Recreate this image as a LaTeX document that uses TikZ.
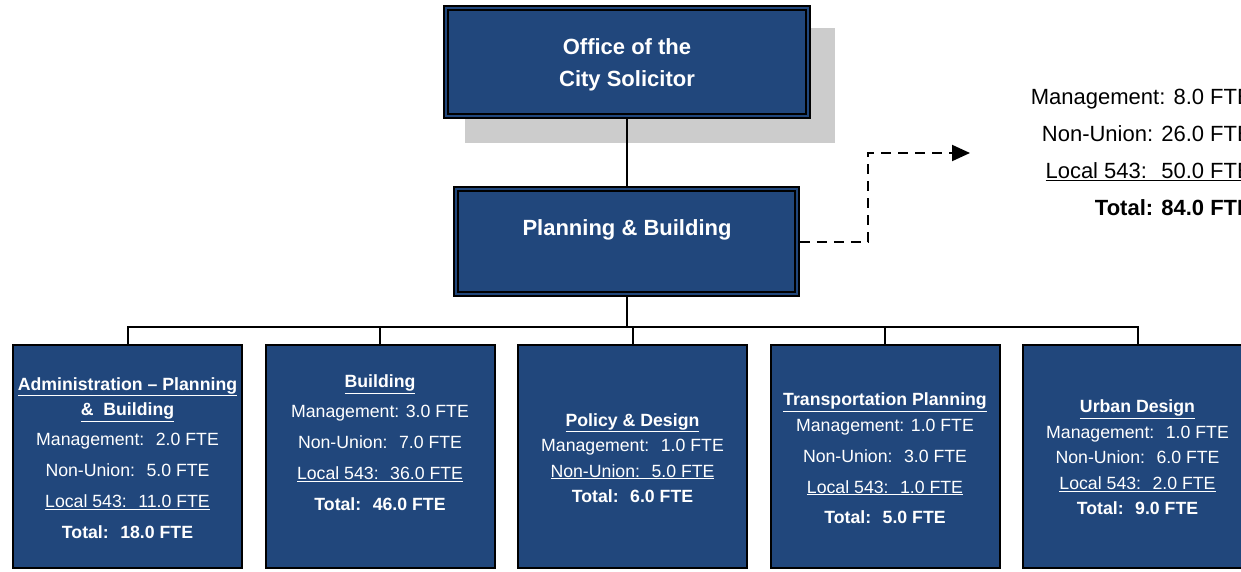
\documentclass[tikz,border=0pt]{standalone}
\usepackage{fontspec}
\setmainfont{Liberation Sans}
\usetikzlibrary{arrows.meta}
\definecolor{boxblue}{RGB}{33,71,124}
\definecolor{shadowgray}{RGB}{204,204,204}

\begin{document}
\begin{tikzpicture}[x=1pt,y=-1pt,
  headbox/.style={draw=black, line width=1.7pt, double=boxblue, double distance=2.7pt,
    fill=boxblue, inner sep=0pt, outer sep=3pt},
  headtext/.style={text=white, align=center, inner sep=0pt,
    font=\bfseries\fontsize{22}{32}\selectfont},
  unitbox/.style={draw=black, line width=2pt, fill=boxblue, inner sep=0pt,
    minimum width=229pt, minimum height=223pt},
  unittext/.style={text=white, align=center, inner sep=0pt,
    font=\fontsize{17.7}{25.5}\selectfont},
  totaltext/.style={text=black, align=right, inner sep=0pt,
    font=\fontsize{22}{37}\selectfont},
  link/.style={draw=black, line width=2pt},
  dotlink/.style={link, dash pattern=on 10pt off 7pt},
]
\useasboundingbox (0,0) rectangle (1241,571);

% drop shadow behind the office box
\node[fill=shadowgray, inner sep=0pt, minimum width=370pt, minimum height=115pt]
  (shadow) at (650,85.5) {};

% head boxes
\node[headbox, minimum width=361.9pt, minimum height=107.9pt] (office) at (627,62) {};
\node[headtext] (officetext) at (627,64.5) {Office of the\\City Solicitor};

\node[headbox, minimum width=340.9pt, minimum height=104.9pt] (pb) at (626.5,241.5) {};
\node[headtext] (pbtext) at (627,230) {Planning \& Building};

% staff totals
\node[totaltext, anchor=east] (totals) at (1252,152.5)
  {Management: 8.0 FTE\\Non-Union: 26.0 FTE\\\underline{Local 543:~ 50.0 FTE}\\\textbf{Total: 84.0 FTE}};
\coordinate (totalsin) at (970,153);

% unit boxes
\node[unitbox] (u1) at (127.5,456.5) {};
\node[unitbox] (u2) at (380,456.5) {};
\node[unitbox] (u3) at (632.5,456.5) {};
\node[unitbox] (u4) at (885,456.5) {};
\node[unitbox] (u5) at (1137.5,456.5) {};

\node[unittext] (t1) at (127.5,458)
  {\textbf{\underline{Administration – Planning}}\\
   \textbf{\underline{\&~ Building}}\\[4.5pt]
   Management:~ 2.0 FTE\\[5.5pt]
   Non-Union:~ 5.0 FTE\\[5.5pt]
   \underline{Local 543:~ 11.0 FTE}\\[5.5pt]
   \textbf{Total:~ 18.0 FTE}};
\node[unittext] (t2) at (380,443)
  {\textbf{\underline{Building}}\\[4.5pt]
   Management: 3.0 FTE\\[5.5pt]
   Non-Union:~ 7.0 FTE\\[5.5pt]
   \underline{Local 543:~ 36.0 FTE}\\[5.5pt]
   \textbf{Total:~ 46.0 FTE}};
\node[unittext] (t3) at (632.5,458)
  {\textbf{\underline{Policy \& Design}}\\
   Management:~ 1.0 FTE\\
   \underline{Non-Union:~ 5.0 FTE}\\
   \textbf{Total:~ 6.0 FTE}};
\node[unittext] (t4) at (885,458)
  {\textbf{\underline{Transportation Planning}}\\
   Management: 1.0 FTE\\[5.5pt]
   Non-Union:~ 3.0 FTE\\[5.5pt]
   \underline{Local 543:~ 1.0 FTE}\\[4.5pt]
   \textbf{Total:~ 5.0 FTE}};
\node[unittext] (t5) at (1137.5,457.5)
  {\textbf{\underline{Urban Design}}\\
   Management:~ 1.0 FTE\\
   Non-Union:~ 6.0 FTE\\
   \underline{Local 543:~ 2.0 FTE}\\
   \textbf{Total:~ 9.0 FTE}};

% connectors
\coordinate (bus) at (627,327);
\draw[link] (office.south -| bus) -- (pb.north -| bus);
\draw[link] (pb.south -| bus) -- (bus);
\draw[link] (u1.north) -- (u1.north |- bus) -| (u5.north);
\draw[link] (u2.north) -- (u2.north |- bus);
\draw[link] (u3.north) -- (u3.north |- bus);
\draw[link] (u4.north) -- (u4.north |- bus);
\draw[dotlink, -{Triangle[length=18pt,width=16pt]}]
  (pb.east) -- (868,241.5) |- (totalsin);
\end{tikzpicture}
\end{document}
